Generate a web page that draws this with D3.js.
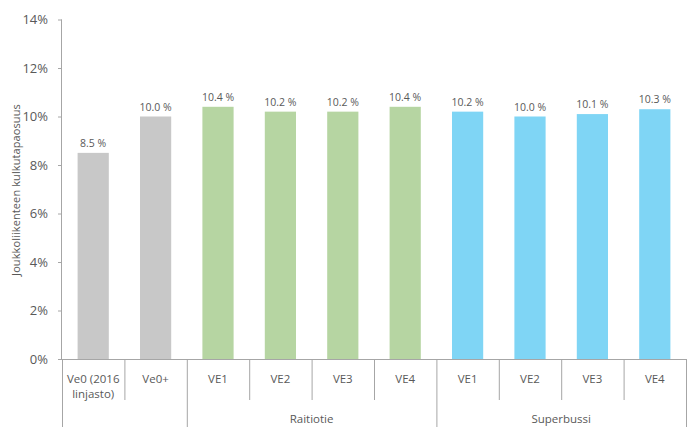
<!DOCTYPE html>
<html><head><meta charset="utf-8">
<script src="https://cdn.jsdelivr.net/npm/d3@7"></script>
<style>body{margin:0;background:#fff}svg{display:block}text{font-family:"Open Sans",sans-serif;fill:#595959}</style>
</head><body>
<svg id="c" width="695" height="440"></svg>
<script>
const categories = ["Ve0 (2016\nlinjasto)", "Ve0+", "VE1", "VE2", "VE3", "VE4", "VE1", "VE2", "VE3", "VE4"];
const groups = ["", "", "Raitiotie", "Raitiotie", "Raitiotie", "Raitiotie", "Superbussi", "Superbussi", "Superbussi", "Superbussi"];
const values = [8.5, 10.0, 10.4, 10.2, 10.2, 10.4, 10.2, 10.0, 10.1, 10.3];
const colorKeys = ["base", "base", "tram", "tram", "tram", "tram", "bus", "bus", "bus", "bus"];
const yTicks = [0, 2, 4, 6, 8, 10, 12, 14];
const yTitle = "Joukkoliikenteen kulkutapaosuus";
const palette = {base: "#c8c8c8", tram: "#b6d5a2", bus: "#7fd5f5"};

const svg = d3.select("#c");
const L = 62, R = 686, T = 19.5, B = 359;
const x = d3.scaleBand().domain(d3.range(categories.length)).range([L, R]).paddingInner(0).paddingOuter(0);
const y = d3.scaleLinear().domain([0, 14]).range([B, T]);
const axisColor = "#a6a6a6";

// y axis
const ya = svg.append("g").attr("transform", `translate(${L},0)`)
  .call(d3.axisLeft(y).tickValues(yTicks).tickFormat(d => d + "%").tickSize(4).tickPadding(10));
ya.select(".domain").attr("stroke", axisColor).attr("d", `M-0.5,${T}V${B}`);
ya.selectAll(".tick line").attr("stroke", axisColor);
ya.selectAll(".tick text").attr("font-size", 13).attr("fill", "#595959").attr("font-family", "Open Sans");

svg.append("text").attr("transform", `translate(20,190) rotate(-90)`)
  .attr("text-anchor", "middle").attr("font-size", 11).attr("letter-spacing", 0.1).text(yTitle);

// bars
const bw = x.bandwidth() * 0.5;
svg.append("g").selectAll("rect").data(values).join("rect")
  .attr("x", (d, i) => x(i) + (x.bandwidth() - bw) / 2)
  .attr("width", bw)
  .attr("y", d => y(d)).attr("height", d => B - y(d))
  .attr("fill", (d, i) => palette[colorKeys[i]]);

svg.append("g").selectAll("text").data(values).join("text")
  .attr("x", (d, i) => x(i) + x.bandwidth() / 2)
  .attr("y", d => y(d) - 6)
  .attr("text-anchor", "middle").attr("font-size", 10.5)
  .text(d => d.toFixed(1) + " %");

// x axis baseline
svg.append("line").attr("x1", L).attr("x2", R).attr("y1", B + 0.5).attr("y2", B + 0.5).attr("stroke", axisColor);

// category separators
const ax = svg.append("g");
for (let i = 0; i <= categories.length; i++) {
  const xp = i < categories.length ? x(i) : R;
  const grpBoundary = i === 0 || i === categories.length || (groups[i] !== groups[i - 1]);
  const y2 = grpBoundary ? 427 : 400;
  ax.append("line").attr("x1", xp + 0.5).attr("x2", xp + 0.5).attr("y1", B).attr("y2", y2).attr("stroke", axisColor);
}

categories.forEach((c, i) => {
  const lines = c.split("\n");
  const t = ax.append("text").attr("x", x(i) + x.bandwidth() / 2).attr("y", 383)
    .attr("text-anchor", "middle").attr("font-size", 11.5);
  lines.forEach((ln, k) => t.append("tspan").attr("x", x(i) + x.bandwidth() / 2).attr("dy", k ? 15 : 0).text(ln));
});

// group labels
const grpNames = Array.from(new Set(groups.filter(g => g)));
grpNames.forEach(g => {
  const idx = groups.map((v, i) => v === g ? i : -1).filter(i => i >= 0);
  const x0 = x(idx[0]), x1 = x(idx[idx.length - 1]) + x.bandwidth();
  ax.append("text").attr("x", (x0 + x1) / 2).attr("y", 423).attr("text-anchor", "middle").attr("font-size", 11.5).text(g);
});
</script>
</body></html>
